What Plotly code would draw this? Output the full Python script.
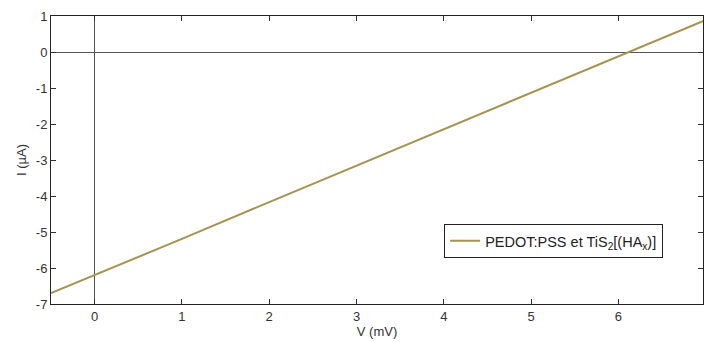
import plotly.graph_objects as go

V = [-0.5, 0, 1, 2, 3, 4, 5, 6, 7]
I = [-6.70, -6.20, -5.19, -4.17, -3.16, -2.15, -1.13, -0.12, 0.89]
series_name = "PEDOT:PSS et TiS<sub>2</sub>[(HA<sub>x</sub>)]"
x_ticks = [0, 1, 2, 3, 4, 5, 6]
x_tick_labels = ["0", "1", "2", "3", "4", "5", "6"]
y_ticks = [1, 0, -1, -2, -3, -4, -5, -6, -7]
y_tick_labels = ["1", "0", "-1", "-2", "-3", "-4", "-5", "-6", "-7"]

FONT = "Arial, Liberation Sans, sans-serif"

axis_common = dict(showline=True, linecolor="#222", linewidth=1, mirror="ticks",
                   ticks="inside", ticklen=5, tickcolor="#333", showgrid=False,
                   zeroline=True, zerolinecolor="#555", zerolinewidth=1,
                   automargin=False,
                   tickfont=dict(family=FONT, size=13, color="#333"))

fig = go.Figure()
fig.add_trace(go.Scatter(x=V, y=I, mode="lines", name=series_name,
                         line=dict(color="#a39454", width=2)))

fig.update_layout(
    width=704, height=342,
    margin=dict(l=51, r=1, t=16, b=38),
    paper_bgcolor="white", plot_bgcolor="white",
    showlegend=True,
    legend=dict(x=0.603, y=0.278, xanchor="left", yanchor="top",
                bordercolor="#222", borderwidth=1, bgcolor="white",
                itemwidth=30,
                font=dict(family=FONT, size=14.5, color="#222")),
    xaxis=dict(range=[-0.5, 6.97], tickvals=x_ticks, ticktext=x_tick_labels, **axis_common,
               title=dict(text="V (mV)", standoff=0,
                          font=dict(family=FONT, size=13, color="#333"))),
    yaxis=dict(range=[-7, 1], tickvals=y_ticks, ticktext=y_tick_labels, **axis_common,
               title=dict(text="I (µA)", standoff=6,
                          font=dict(family=FONT, size=13, color="#333"))),
)

fig.write_html("out.html",
               config={"displayModeBar": False},
               post_script="document.body.style.margin='0';document.body.style.overflow='hidden';")
